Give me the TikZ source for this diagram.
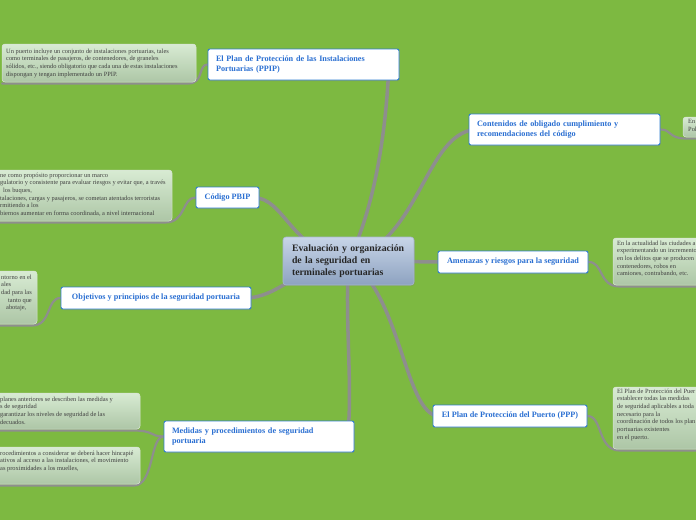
\documentclass[tikz,border=0pt]{standalone}
\usepackage{fontspec}
\setmainfont{Liberation Serif}
\usetikzlibrary{shadows,calc}
\definecolor{bggreen}{HTML}{7DB941}
\definecolor{topicblue}{HTML}{2F7DD1}
\definecolor{topictext}{HTML}{2A6FD2}
\definecolor{ctop}{HTML}{C8D5E8}
\definecolor{cbot}{HTML}{8DA2C0}
\definecolor{cborder}{HTML}{A7B7CE}
\definecolor{notetop}{HTML}{D8EBD3}
\definecolor{notebot}{HTML}{ADC6A6}
\definecolor{linkgrey}{HTML}{8E8E8E}
\pgfdeclarelayer{bg}
\pgfsetlayers{bg,main}
\begin{document}
\begin{tikzpicture}[x=1pt,y=-1pt,
  topic/.style={draw=topicblue, line width=0.9pt, fill=white, rounded corners=2pt,
    text=topictext, font=\fontsize{8.2}{9.5}\selectfont\bfseries, align=left,
    inner xsep=8pt, inner ysep=2pt,
    drop shadow={opacity=0.3, shadow xshift=0.8pt, shadow yshift=-1pt}},
  central/.style={draw=cborder, line width=0.6pt, top color=ctop, bottom color=cbot,
    rounded corners=3pt, font=\fontsize{9.8}{12}\selectfont\bfseries, align=left,
    text=black!85, inner xsep=9pt, text width=113pt, minimum height=48pt,
    drop shadow={opacity=0.3, shadow xshift=0.8pt, shadow yshift=-1pt}},
  notebox/.style={draw=white!55!notebot, line width=0.5pt, top color=notetop,
    bottom color=notebot, rounded corners=3pt, inner sep=0pt, outer sep=0pt},
  notetext/.style={anchor=north west, inner sep=0pt, align=left,
    font=\fontsize{6.4}{7.7}\selectfont, text=black!75},
  mainlink/.style={draw=linkgrey, line width=3.5pt, line cap=round},
  notelink/.style={draw=linkgrey, line width=2.2pt, line cap=round}
]
\useasboundingbox (0,0) rectangle (696,520);
\clip (0,0) rectangle (696,520);

% central and topics
\node[central] (c) at (348.5,261) {Evaluación y organización\\de la seguridad en\\terminales portuarias};
\node[topic, text width=175pt, minimum height=31pt] (ppip) at (303.5,64.5)
  {El Plan de Protección de las Instalaciones\\Portuarias (PPIP)};
\node[topic, text width=175pt, minimum height=31pt] (cont) at (564.5,129.5)
  {Contenidos de obligado cumplimiento y\\recomendaciones del código};
\node[topic, align=center, minimum width=63pt, minimum height=21pt] (pbip) at (227.5,197.5)
  {Código PBIP};
\node[topic, align=center, minimum width=150pt, minimum height=22pt] (amen) at (513,262)
  {Amenazas y riesgos para la seguridad};
\node[topic, align=center, minimum width=190pt, minimum height=22pt] (obj) at (156,298)
  {Objetivos y principios de la seguridad portuaria};
\node[topic, text width=174pt, minimum height=31pt] (med) at (259,436.5)
  {Medidas y procedimientos de seguridad\\portuaria};
\node[topic, align=center, minimum width=154pt, minimum height=22pt] (ppp) at (510,416)
  {El Plan de Protección del Puerto (PPP)};

% note boxes
\node[notebox, minimum width=194pt, minimum height=38pt] (n1b) at (99,63) {};
\node[notebox, minimum width=22pt, minimum height=20pt] (n2b) at (694,127) {};
\node[notebox, minimum width=178pt, minimum height=51pt] (n3b) at (83,195.5) {};
\node[notebox, minimum width=92pt, minimum height=47pt] (n4b) at (659,261.5) {};
\node[notebox, minimum width=43pt, minimum height=53pt] (n5b) at (15.5,297.5) {};
\node[notebox, minimum width=146pt, minimum height=36pt] (n6b) at (67,411) {};
\node[notebox, minimum width=146pt, minimum height=37pt] (n7b) at (67,465.5) {};
\node[notebox, minimum width=92pt, minimum height=62pt] (n8b) at (659,418) {};

% note texts
\node[notetext] (n1) at (6,48.5) {Un puerto incluye un conjunto de instalaciones portuarias, tales\\como terminales de pasajeros, de contenedores, de graneles\\sólidos, etc., siendo obligatorio que cada una de estas instalaciones\\dispongan y tengan implementado un PPIP.};
\node[notetext] (n2) at (688,119.5) {En\\Pol};
\node[notetext] (n3) at (0,172.5) {ne como propósito proporcionar un marco\\gulatorio y consistente para evaluar riesgos y evitar que, a través\\\hspace*{3pt}los buques,\\talaciones, cargas y pasajeros, se cometan atentados terroristas\\rmitiendo a los\\biernos aumentar en forma coordinada, a nivel internacional};
\node[notetext] (n4) at (617,240.5) {En la actualidad las ciudades a\\experimentando un incremento\\en los delitos que se producen\\contenedores, robos en\\camiones, contrabando, etc.};
\node[notetext] (n5) at (1,274.5) {ntorno en el\\ales\\dad para las\\\hspace*{7pt}tanto que\\\hspace*{5pt}abotaje,};
\node[notetext] (n6) at (0,396.5) {planes anteriores se describen las medidas y\\s de seguridad\\garantizar los niveles de seguridad de las\\decuados.};
\node[notetext] (n7) at (0,450.5) {rocedimientos a considerar se deberá hacer hincapié\\ativos al acceso a las instalaciones, el movimiento\\as proximidades a los muelles,};
\node[notetext] (n8) at (617,388.5) {El Plan de Protección del Puer\\establecer todas las medidas\\de seguridad aplicables a toda\\necesario para la\\coordinación de todos los plan\\portuarias existentes\\en el puerto.};

\begin{pgfonlayer}{bg}
\fill[bggreen] (0,0) rectangle (696,520);
% main links
\draw[mainlink] (c.center) .. controls (378,200) and (386,120) .. ($(ppip.south east)+(-11,-6)$);
\draw[mainlink] (c.center) .. controls (420,240) and (425,135) .. ($(cont.west)+(6,0)$);
\draw[mainlink] (c.center) .. controls (290,250) and (285,198) .. ($(pbip.east)+(-6,0)$);
\draw[mainlink] (c.center) -- ($(amen.west)+(6,0)$);
\draw[mainlink] (c.center) .. controls (290,270) and (280,297) .. ($(obj.east)+(-6,0)$);
\draw[mainlink] (c.center) .. controls (345,320) and (352,380) .. ($(med.north east)+(-6,6)$);
\draw[mainlink] (c.center) .. controls (400,290) and (405,415) .. ($(ppp.west)+(6,0)$);
% note links
\draw[notelink] (ppip.west) .. controls (198,64.5) and (204,83.5) .. (188,83.5) -- ($(n1b.south west)+(0,1.5)$);
\draw[notelink] (pbip.west) .. controls (182,197.5) and (186,222.5) .. (165,222.5) -- ($(n3b.south west)+(0,1.5)$);
\draw[notelink] (cont.east) .. controls (672,129.5) and (668,138.5) .. (686,138.5) -- ($(n2b.south east)+(0,1.5)$);
\draw[notelink] (amen.east) .. controls (604,262) and (598,286.5) .. (620,286.5) -- ($(n4b.south east)+(0,1.5)$);
\draw[notelink] (obj.west) .. controls (46,298) and (52,325.5) .. (32,325.5) -- ($(n5b.south west)+(0,1.5)$);
\draw[notelink] (med.west) .. controls (150,436.5) and (154,430.5) .. (134,430.5) -- ($(n6b.south west)+(0,1.5)$);
\draw[notelink] (med.west) .. controls (150,436.5) and (154,485.5) .. (134,485.5) -- ($(n7b.south west)+(0,1.5)$);
\draw[notelink] (ppp.east) .. controls (603,416) and (597,450.5) .. (620,450.5) -- ($(n8b.south east)+(0,1.5)$);
\end{pgfonlayer}
\end{tikzpicture}
\end{document}
